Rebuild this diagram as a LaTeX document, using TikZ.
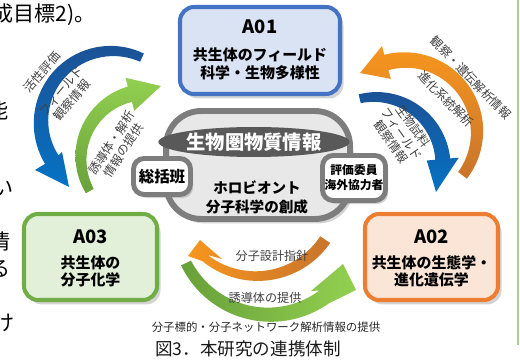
\documentclass[tikz,border=0pt]{standalone}
\usepackage{fontspec}
\setmainfont{Noto Sans CJK JP}
\usetikzlibrary{shapes.geometric,shadows}

\definecolor{aoneline}{RGB}{68,114,196}
\definecolor{aonefill}{RGB}{218,227,243}
\definecolor{athreeline}{RGB}{112,173,71}
\definecolor{athreefill}{RGB}{226,240,217}
\definecolor{atwoline}{RGB}{237,125,49}
\definecolor{atwofill}{RGB}{251,229,214}
\definecolor{cloudline}{RGB}{125,125,125}
\definecolor{cloudfill}{RGB}{232,232,232}
\definecolor{ovalfill}{RGB}{89,89,89}
\definecolor{labelgray}{RGB}{64,64,64}
\definecolor{bluedark}{RGB}{28,82,150}
\definecolor{bluelight}{RGB}{5,114,196}
\definecolor{greendark}{RGB}{104,160,58}
\definecolor{greenlight}{RGB}{146,208,80}
\definecolor{orangelight}{RGB}{247,150,30}
\definecolor{orangedark}{RGB}{200,116,44}
\definecolor{sidebar}{RGB}{169,208,142}

\tikzset{
  box/.style={rounded corners=8pt, line width=2.3pt,
    drop shadow={shadow xshift=2pt, shadow yshift=-2.5pt, opacity=0.35}},
  boxtitle/.style={font=\fontsize{10.5}{12}\selectfont\bfseries, inner sep=0},
  boxtext/.style={font=\fontsize{8.5}{9.9}\selectfont\bfseries, align=center, inner sep=0},
  cloud/.style={rounded corners=20pt, line width=3.4pt, draw=cloudline, fill=cloudfill,
    drop shadow={shadow xshift=2pt, shadow yshift=-2.5pt, opacity=0.35}},
  oval/.style={ellipse, fill=ovalfill, text=white, inner sep=0,
    font=\fontsize{11}{13}\selectfont\bfseries},
  coretext/.style={font=\fontsize{8.3}{10.8}\selectfont\bfseries, align=center, inner sep=0},
  smallbox/.style={rounded corners=6pt, line width=2.8pt, draw=cloudline, fill=white,
    align=center, inner sep=0, font=\fontsize{8.8}{10}\selectfont\bfseries,
    drop shadow={shadow xshift=1.5pt, shadow yshift=-2pt, opacity=0.35}},
  arrowlabel/.style={font=\fontsize{6.9}{8}\selectfont, text=labelgray, align=center, inner sep=0},
  bodytext/.style={font=\fontsize{12}{14}\selectfont, inner sep=0},
}

% curved band with a head: shade, centre x, centre y, radius, from, to, width at start, width at end, head
\newcommand{\bandarrow}[9]{%
  \shade[#1] plot[domain=#5:#6, samples=40]
      ({#2+(#4+(#7+(#8-#7)*(\x-(#5))/((#6)-(#5)))/2)*cos(\x)}, {#3+(#4+(#7+(#8-#7)*(\x-(#5))/((#6)-(#5)))/2)*sin(\x)})
    -- #9 --
    plot[domain=#6:#5, samples=40]
      ({#2+(#4-(#7+(#8-#7)*(\x-(#5))/((#6)-(#5)))/2)*cos(\x)}, {#3+(#4-(#7+(#8-#7)*(\x-(#5))/((#6)-(#5)))/2)*sin(\x)})
    -- cycle;}

\begin{document}
\begin{tikzpicture}[x=0.02cm, y=-0.02cm]
  \useasboundingbox (0,0) rectangle (520,361);
  \clip (0,0) rectangle (520,361);

  % page text beside the figure
  \node[bodytext, anchor=west] (goal) at (-8,15) {成目標2)。};
  \node[bodytext] (fragno) at (-2,110) {能};
  \node[bodytext] (fragi) at (3,188) {い};
  \node[bodytext] (fragjou) at (0,241) {情};
  \node[bodytext] (fragru) at (0,269) {る};
  \node[bodytext] (fragke) at (4,323) {け};
  \draw[sidebar, line width=0.6pt] (518,0) -- (518,345);

  % arrows
  \bandarrow{top color=bluedark, bottom color=bluelight}{112}{122}{71}{-65}{-212}{9}{16}{(35,170) -- (69,187) -- (62,152)}
  \bandarrow{top color=greenlight, bottom color=greendark}{147}{158}{66}{150}{255}{9}{16}{(125.5,77.8) -- (161,86) -- (134.3,110.7)}
  \bandarrow{top color=orangelight, bottom color=orangedark}{405}{132}{72}{37}{-105}{11}{16}{(382,46) -- (360,73) -- (390.8,78.9)}
  \bandarrow{top color=bluedark, bottom color=bluelight}{375}{165}{68}{-103}{-5}{9}{15}{(458.7,157.7) -- (436,192) -- (426.8,160.5)}
  \bandarrow{left color=orangelight, right color=orangedark}{256.6}{193.4}{82.7}{34}{128.6}{12}{8}{(188,256) -- (200,240) -- (222,259)}
  \bandarrow{left color=greendark, right color=greenlight}{269.4}{221.6}{93.1}{153.6}{54}{11}{16}{(356,290) -- (343,264) -- (311,291)}

  % arrow labels
  \node[arrowlabel, rotate=49] (katsusei) at (42,72) {活性評価};
  \node[arrowlabel, rotate=50] (fieldl) at (67,96) {フィールド\\観察情報};
  \node[arrowlabel, rotate=57] (yudou) at (117.5,146.5) {誘導体・解析\\情報の提供};
  \node[arrowlabel, rotate=-46] (kansatsu) at (471,78) {観察・遺伝解析情報};
  \node[arrowlabel, rotate=-45] (shinka) at (446,99) {進化系統解析};
  \node[arrowlabel, rotate=-55, font=\fontsize{6.9}{7.7}\selectfont] (shiryou) at (402,134) {生物試料\\フィールド\\観察情報};
  \node[arrowlabel] (sekkei) at (272,256) {分子設計指針};
  \node[arrowlabel] (teikyou) at (265,298) {誘導体の提供};

  % A01
  \node[box, draw=aoneline, fill=aonefill, minimum width=3.2cm, minimum height=1.74cm] (aone) at (260,50.5) {};
  \node[boxtitle] (aonetitle) at (260,27) {A01};
  \node[boxtext] (aonetext) at (260,64) {共生体のフィールド\\科学・生物多様性};

  % A03
  \node[box, draw=athreeline, fill=athreefill, minimum width=2.66cm, minimum height=1.72cm] (athree) at (90.5,257) {};
  \node[boxtitle] (athreetitle) at (90.5,237) {A03};
  \node[boxtext] (athreetext) at (90.5,271.5) {共生体の\\分子化学};

  % A02
  \node[box, draw=atwoline, fill=atwofill, minimum width=2.66cm, minimum height=1.72cm] (atwo) at (431.5,257) {};
  \node[boxtitle] (atwotitle) at (431.5,237) {A02};
  \node[boxtext] (atwotext) at (431.5,271) {共生体の生態学・\\進化遺伝学};

  % centre
  \node[cloud, minimum width=3.68cm, minimum height=2.16cm] (core) at (258,165) {};
  \node[oval, minimum width=3.16cm, minimum height=0.6cm] (oval) at (254,142) {生物圏物質情報};
  \node[coretext] (holo) at (257,197.5) {ホロビオント\\分子科学の創成};
  \node[smallbox, minimum width=1.14cm, minimum height=0.72cm] (soukatsu) at (162,176.5) {総括班};
  \node[smallbox, minimum width=1.26cm, minimum height=0.9cm, font=\fontsize{6.7}{8.5}\selectfont\bfseries] (hyouka) at (354,178) {評価委員\\海外協力者};

  % caption
  \node[arrowlabel, font=\fontsize{6.5}{8}\selectfont, text=black!85] (note) at (266,327) {分子標的・分子ネットワーク解析情報の提供};
  \node[inner sep=0, font=\fontsize{10}{12}\selectfont, text=black!90] (caption) at (248,349) {図3．本研究の連携体制};
\end{tikzpicture}
\end{document}
